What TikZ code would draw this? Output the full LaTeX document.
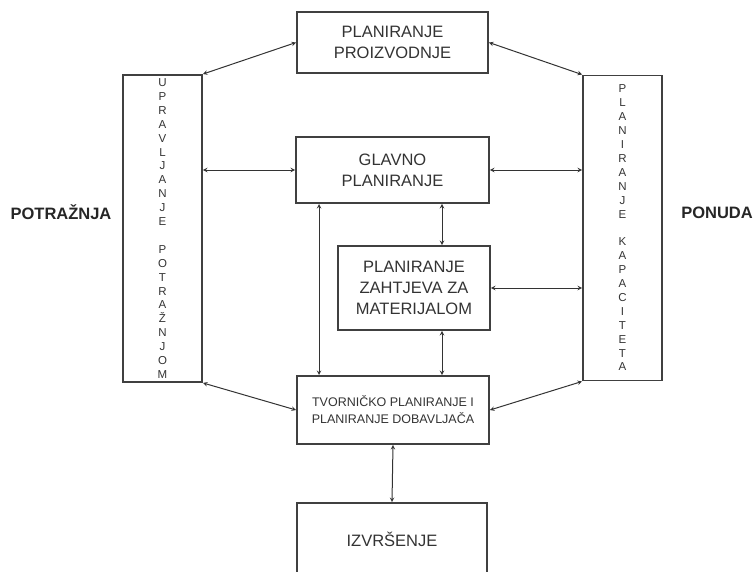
\documentclass[tikz,border=0pt]{standalone}
\usepackage{fontspec}
\setmainfont{Liberation Sans}
\usepackage{tikz}

\begin{document}
\begin{tikzpicture}[x=1pt,y=-1pt,>=stealth]
  \tikzset{
    blok/.style={draw=black!75,line width=1.9pt,text=black!80,align=center,inner sep=0pt},
    veza/.style={<->,black!80,line width=1pt},
    velik/.style={font=\fontsize{16.5}{21}\selectfont},
    slova/.style={font=\fontsize{11.5}{13.9}\selectfont}
  }
  \useasboundingbox (0,0) rectangle (753,571);

  % Central column of boxes
  \node[blok,velik,minimum width=191pt,minimum height=61pt] (proiz) at (392.5,42.5)
    {PLANIRANJE\\PROIZVODNJE};
  \node[blok,velik,minimum width=193pt,minimum height=66pt] (glavno) at (392.5,170)
    {GLAVNO\\PLANIRANJE};
  \node[blok,velik,minimum width=152pt,minimum height=84pt] (mat) at (414,288)
    {PLANIRANJE\\ZAHTJEVA ZA\\MATERIJALOM};
  \node[blok,font=\fontsize{12.5}{17}\selectfont,minimum width=192pt,minimum height=68pt] (tvor) at (393,410)
    {TVORNIČKO PLANIRANJE I\\PLANIRANJE DOBAVLJAČA};
  \node[blok,velik,minimum width=190pt,minimum height=72pt] (izv) at (392,539)
    {IZVRŠENJE};

  % Side boxes (letters stacked)
  \node[blok,slova,minimum width=79pt,minimum height=307pt] (upr) at (162.5,228.5)
    {U\\P\\R\\A\\V\\L\\J\\A\\N\\J\\E\\\mbox{}\\P\\O\\T\\R\\A\\Ž\\N\\J\\O\\M};
  \node[blok,slova,minimum width=79pt,minimum height=305pt] (kap) at (622.5,228)
    {P\\L\\A\\N\\I\\R\\A\\N\\J\\E\\\mbox{}\\K\\A\\P\\A\\C\\I\\T\\E\\T\\A};

  % Outer labels
  \node[font=\fontsize{16.5}{20}\selectfont\bfseries,text=black!85] (potr) at (61,212) {POTRAŽNJA};
  \node[font=\fontsize{16.5}{20}\selectfont\bfseries,text=black!85] (pon) at (717,213) {PONUDA};

  % Connectors
  \draw[veza] (upr.north east) -- (proiz.west);
  \draw[veza] (proiz.east) -- (kap.north west);
  \draw[veza] (upr.east |- glavno.west) -- (glavno.west);
  \draw[veza] (glavno.east) -- (kap.west |- glavno.east);
  \draw[veza] ([xshift=28pt]mat.north |- glavno.south) -- ([xshift=28pt]mat.north);
  \draw[veza] ([xshift=28pt]mat.south) -- ([xshift=28pt]mat.south |- tvor.north);
  \draw[veza] (mat.east) -- (kap.west |- mat.east);
  \draw[veza] ([xshift=24pt]glavno.south west) -- ([xshift=24pt]glavno.south west |- tvor.north);
  \draw[veza] (upr.south east) -- (tvor.west);
  \draw[veza] (tvor.east) -- (kap.south west);
  \draw[veza] (tvor.south) -- (izv.north);
\end{tikzpicture}
\end{document}
